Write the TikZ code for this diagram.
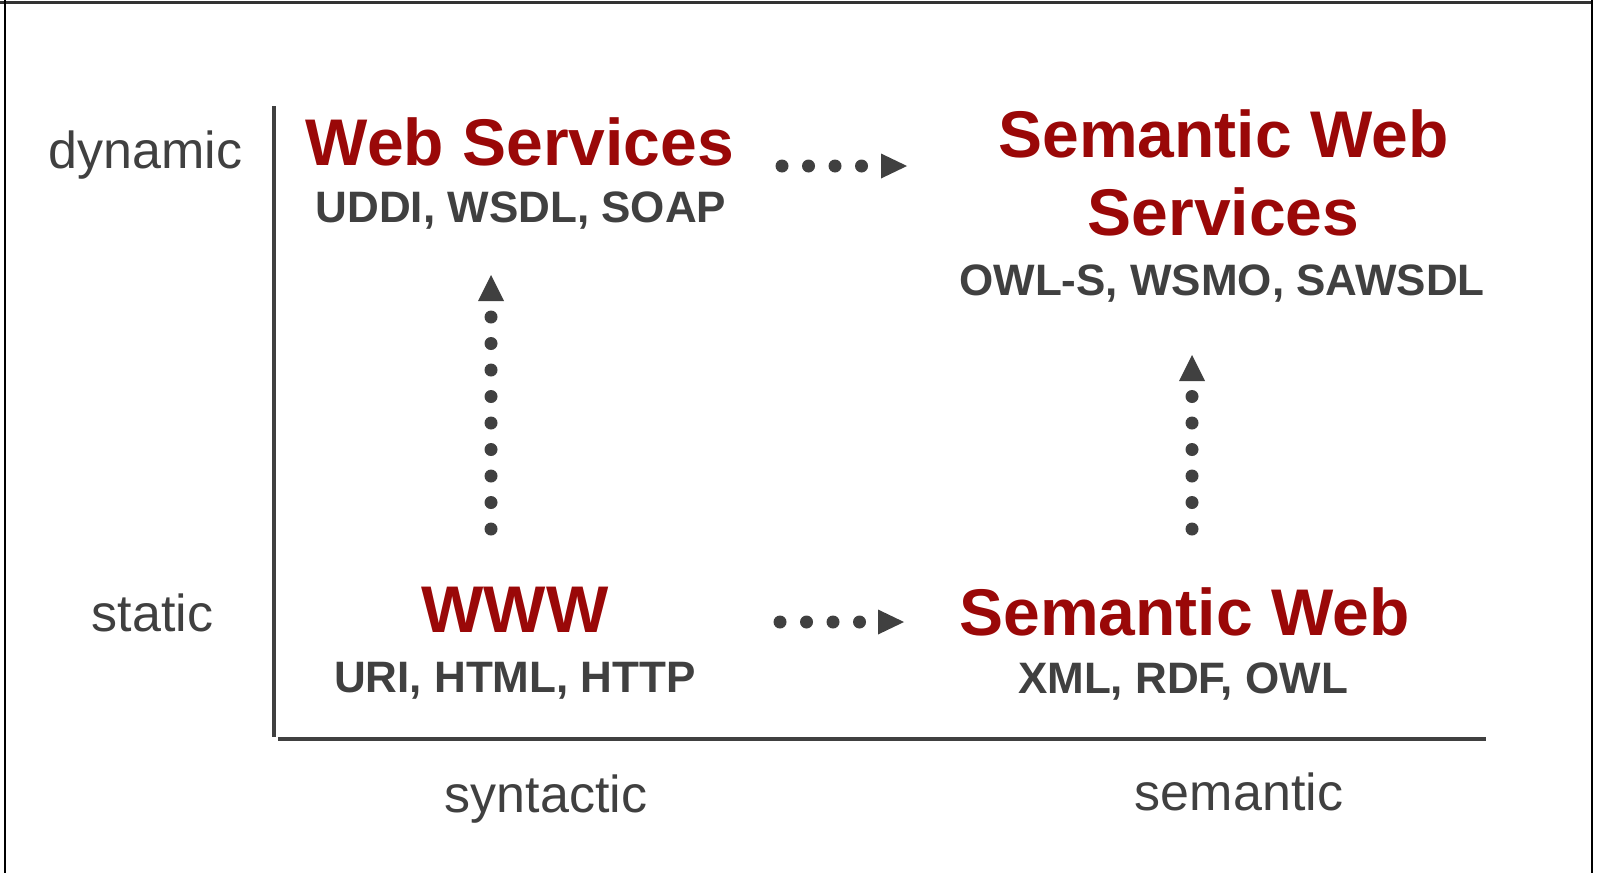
\documentclass[tikz,border=0pt]{standalone}
\usepackage{fontspec}
\setmainfont{Liberation Sans}
\definecolor{tred}{RGB}{154,8,8}
\definecolor{tgray}{RGB}{64,64,64}
\begin{document}
\begin{tikzpicture}[x=1pt,y=-1pt,
  every node/.style={inner sep=0pt,outer sep=0pt,anchor=base},
  title/.style={text=tred,font=\bfseries\fontsize{66}{78}\selectfont,align=center},
  sub/.style={text=tgray,font=\bfseries\fontsize{44}{50}\selectfont},
  axlabel/.style={text=tgray,font=\fontsize{52}{60}\selectfont},
  axisline/.style={draw=tgray,line width=3.3pt},
  dotline/.style={draw=tgray,line width=13pt,line cap=round,dash pattern=on 0pt off 26.5pt},
  tipfill/.style={fill=tgray}]
\useasboundingbox (0,0) rectangle (1597,873);
% frame
\draw[black!80,line width=2.5pt] (0,2.5) -- (1593,2.5);
\draw[black,line width=2.5pt] (5,0) -- (5,873);
\draw[black,line width=2.5pt] (1592,0) -- (1592,873);
% axes
\coordinate (ytop) at (274,106);
\coordinate (ybot) at (274,737);
\coordinate (xl) at (278,739);
\coordinate (xr) at (1486,739);
\draw[axisline] (ytop) -- (ybot);
\draw[axisline] (xl) -- (xr);
% axis labels
\node[axlabel] (dyn) at (145.5,168) {dynamic};
\node[axlabel] (sta) at (152.5,631) {static};
\node[axlabel] (syn) at (546,812) {syntactic};
\node[axlabel] (sem) at (1239,810) {semantic};
% titles
\node[title] (ws) at (520,165) {Web Services};
\node[sub] (wss) at (521,222) {UDDI, WSDL, SOAP};
\node[title] (sws) at (1223.5,235) {Semantic Web\\Services};
\node[sub] (swss) at (1222,295) {OWL-S, WSMO, SAWSDL};
\node[title] (www) at (515,632) {WWW};
\node[sub] (wwws) at (515,692) {URI, HTML, HTTP};
\node[title] (sw) at (1184.5,635) {Semantic Web};
\node[sub] (sws2) at (1183,693) {XML, RDF, OWL};
% arrow top: WS -> SWS
\coordinate (a1s) at (782,166);
\coordinate (a1e) at (875,166);
\coordinate (a1t) at (907,166);
\draw[dotline] (a1s) -- (a1e);
\fill[tipfill] (a1t) -- ++(-26,-12.5) -- ++(0,25) -- cycle;
% arrow bottom: WWW -> SW
\coordinate (a2s) at (780,622);
\coordinate (a2e) at (872,622);
\coordinate (a2t) at (904,622);
\draw[dotline] (a2s) -- (a2e);
\fill[tipfill] (a2t) -- ++(-26,-12.5) -- ++(0,25) -- cycle;
% arrow left: WWW -> WS
\coordinate (a3s) at (491,529);
\coordinate (a3e) at (491,310);
\coordinate (a3t) at (491,275);
\draw[dotline] (a3s) -- (a3e);
\fill[tipfill] (a3t) -- ++(-13,26) -- ++(26,0) -- cycle;
% arrow right: SW -> SWS
\coordinate (a4s) at (1192,529);
\coordinate (a4e) at (1192,390);
\coordinate (a4t) at (1192,355);
\draw[dotline] (a4s) -- (a4e);
\fill[tipfill] (a4t) -- ++(-13,26) -- ++(26,0) -- cycle;
\end{tikzpicture}
\end{document}
